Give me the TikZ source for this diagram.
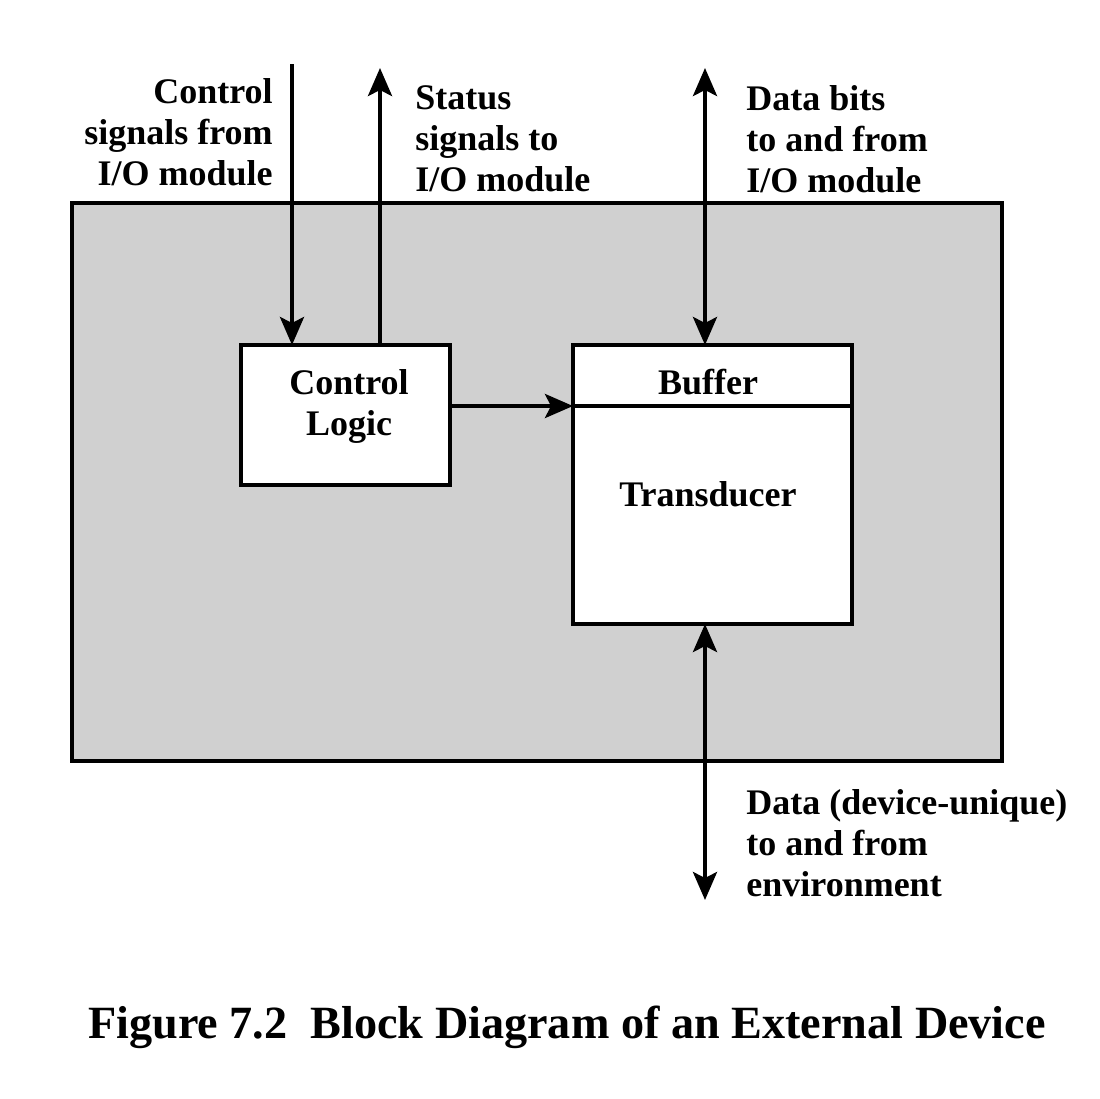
\documentclass[tikz,border=0pt]{standalone}
\usepackage{fontspec}
\setmainfont{Liberation Serif}
\usetikzlibrary{arrows.meta}
\begin{document}
\begin{tikzpicture}[x=0.5pt,y=-0.5pt,
  box/.style={draw,line width=2pt,inner sep=0pt,outer sep=0pt},
  lbl/.style={inner sep=0pt,font=\fontsize{18pt}{20.5pt}\selectfont\bfseries},
  arr/.style={line width=2pt,-{Stealth[length=14pt,width=12pt,inset=3pt]}},
  darr/.style={line width=2pt,{Stealth[length=14pt,width=12pt,inset=3pt]}-{Stealth[length=14pt,width=12pt,inset=3pt]}}]
\useasboundingbox (0,0) rectangle (1099,1099);
\node[box,fill={rgb,255:red,208;green,208;blue,208},minimum width=465pt,minimum height=279pt] (outer) at (537,482) {};
\node[box,fill=white,minimum width=104.5pt,minimum height=70pt] (ctrl) at (345.5,415) {};
\node[box,fill=white,minimum width=139.5pt,minimum height=30.5pt] (buf) at (712.5,375.5) {};
\node[box,fill=white,minimum width=139.5pt,minimum height=109pt] (trans) at (712.5,515) {};
\node[lbl,align=center] (ctrltxt) at (349,406) {Control\\Logic};
\node[lbl] (buftxt) at (708,382) {Buffer};
\node[lbl] (transtxt) at (708,494) {Transducer};
\coordinate (cin) at (292,64);
\coordinate (sout) at (380,68);
\coordinate (dtop) at (705,68);
\coordinate (dbot) at (705,900);
\draw[arr] (cin) -- (cin |- ctrl.north);
\draw[arr] (sout |- ctrl.north) -- (sout);
\draw[darr] (dtop) -- (dtop |- buf.north);
\draw[darr] (dbot |- trans.south) -- (dbot);
\draw[arr] (buf.south west -| ctrl.east) -- (buf.south west);
\node[lbl,anchor=east,align=right] (l1) at (273,132) {Control\\signals from\\I/O module};
\node[lbl,anchor=west,align=left] (l2) at (415,139) {Status\\signals to\\I/O module};
\node[lbl,anchor=west,align=left] (l3) at (746,139) {Data bits\\to and from\\I/O module};
\node[lbl,anchor=west,align=left] (l4) at (746,843) {Data (device-unique)\\to and from\\environment};
\node[inner sep=0pt,font=\fontsize{23.1pt}{26pt}\selectfont\bfseries] (cap) at (567,1027) {Figure 7.2\hspace{0.5em}Block Diagram of an External Device};
\end{tikzpicture}
\end{document}
